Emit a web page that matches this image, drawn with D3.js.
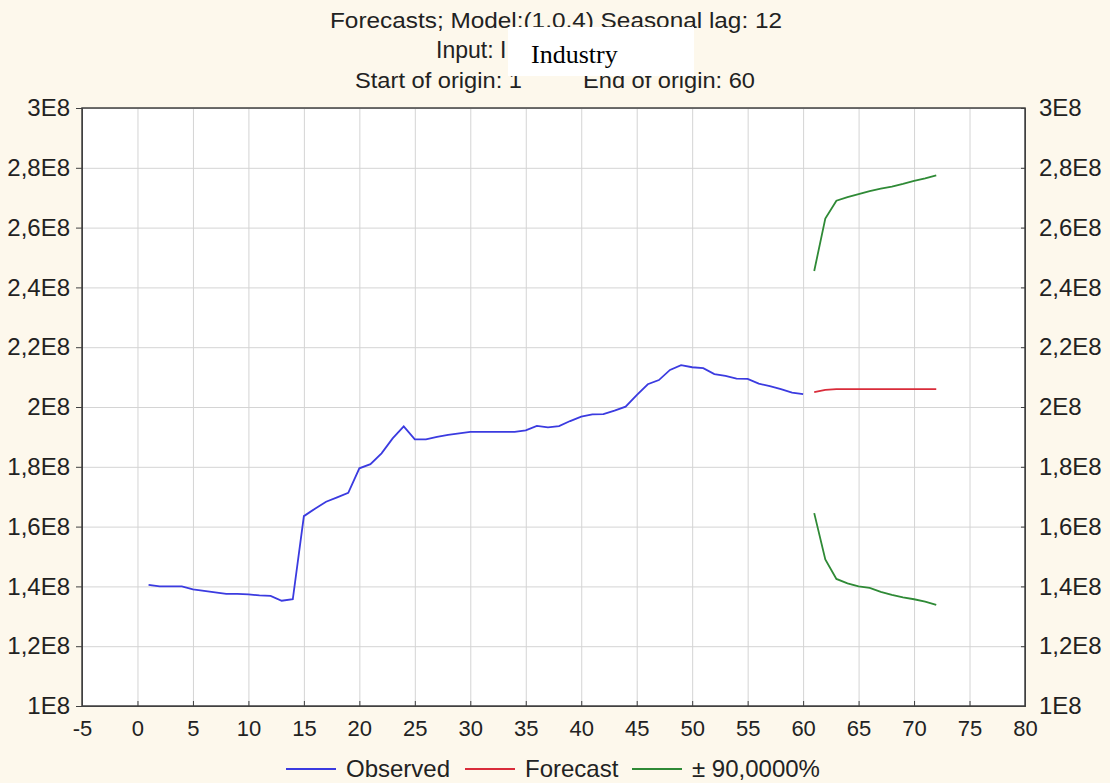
<!DOCTYPE html>
<meta charset="utf-8">
<style>
body { margin: 0; background: #fdf8ec; }
svg { font-family: "Liberation Sans", Arial, sans-serif; }
.grid line { stroke: #d4d4d4; stroke-width: 1; }
.grid path { display: none; }
.axis path, .axis line { stroke: #404040; }
.axis text { fill: #222; }
.series { fill: none; stroke-width: 1.8; }
</style>
<svg id="chart" width="1110" height="783"></svg>
<script src="https://cdnjs.cloudflare.com/ajax/libs/d3/7.8.5/d3.min.js"></script>
<script>

// values in units of 1E8
var observed = [1.405, 1.400, 1.400, 1.400, 1.390, 1.385, 1.380, 1.375, 1.375, 1.373,
                1.370, 1.368, 1.352, 1.357, 1.635, 1.660, 1.683, 1.698, 1.713, 1.795,
                1.809, 1.845, 1.895, 1.935, 1.892, 1.892, 1.900, 1.907, 1.912, 1.917,
                1.917, 1.917, 1.917, 1.917, 1.922, 1.937, 1.932, 1.936, 1.953, 1.968,
                1.975, 1.976, 1.988, 2.001, 2.040, 2.076, 2.090, 2.124, 2.140, 2.133,
                2.130, 2.110, 2.104, 2.095, 2.094, 2.078, 2.070, 2.060, 2.048, 2.043];
var observedStart = 1;

var forecast = [2.050, 2.057, 2.060, 2.060, 2.060, 2.060, 2.060, 2.060, 2.060, 2.060, 2.060, 2.060];
var upper    = [2.455, 2.630, 2.690, 2.702, 2.712, 2.722, 2.730, 2.737, 2.746, 2.756, 2.765, 2.775];
var lower    = [1.645, 1.490, 1.425, 1.410, 1.400, 1.395, 1.382, 1.372, 1.363, 1.357, 1.349, 1.338];
var forecastStart = 61;

var xTicks = [-5, 0, 5, 10, 15, 20, 25, 30, 35, 40, 45, 50, 55, 60, 65, 70, 75, 80];
var yTicks = [1, 1.2, 1.4, 1.6, 1.8, 2, 2.2, 2.4, 2.6, 2.8, 3];

var legendItems = [
  {label: "Observed", color: "#3b3be0"},
  {label: "Forecast", color: "#d92c3a"},
  {label: "\u00b1 90,0000%", color: "#2f8a36"}
];

var svg = d3.select("svg"),
    margin = {top: 108, right: 85, bottom: 77, left: 82},
    width = +svg.attr("width") - margin.left - margin.right,
    height = +svg.attr("height") - margin.top - margin.bottom;

var x = d3.scaleLinear().domain([-5, 80]).range([0, width]),
    y = d3.scaleLinear().domain([1, 3]).range([height, 0]);

var fmt = function(d) { return String(d).replace(".", ",") + "E8"; };

var g = svg.append("g")
    .attr("transform", "translate(" + margin.left + "," + margin.top + ")");

g.append("rect")
    .attr("width", width)
    .attr("height", height)
    .attr("fill", "#fff");

// grid
g.append("g")
    .attr("class", "grid")
    .attr("transform", "translate(0," + height + ")")
    .call(d3.axisBottom(x).tickValues(xTicks).tickSize(-height).tickFormat(""));
g.append("g")
    .attr("class", "grid")
    .call(d3.axisLeft(y).tickValues(yTicks).tickSize(-width).tickFormat(""));

function toPoints(vals, start) {
  return vals.map(function(v, i) { return [start + i, v]; });
}

var line = d3.line()
    .x(function(d) { return x(d[0]); })
    .y(function(d) { return y(d[1]); });

var series = [
  {pts: toPoints(observed, observedStart), color: legendItems[0].color},
  {pts: toPoints(forecast, forecastStart), color: legendItems[1].color},
  {pts: toPoints(upper, forecastStart), color: legendItems[2].color},
  {pts: toPoints(lower, forecastStart), color: legendItems[2].color}
];

g.selectAll(".series")
  .data(series)
  .enter().append("path")
    .attr("class", "series")
    .attr("d", function(d) { return line(d.pts); })
    .attr("stroke", function(d) { return d.color; });

// axes
var xAxis = g.append("g")
    .attr("class", "axis")
    .attr("transform", "translate(0," + height + ")")
    .call(d3.axisBottom(x).tickValues(xTicks).tickSize(-5).tickPadding(14)
      .tickFormat(function(d) { return String(d); }));
xAxis.selectAll("text").style("font-size", "22px");

var yLeft = g.append("g")
    .attr("class", "axis")
    .call(d3.axisLeft(y).tickValues(yTicks).tickFormat(fmt).tickSize(6).tickPadding(6));
yLeft.selectAll("text").style("font-size", "24px");

var yRight = g.append("g")
    .attr("class", "axis")
    .attr("transform", "translate(" + width + ",0)")
    .call(d3.axisRight(y).tickValues(yTicks).tickFormat(fmt).tickSize(-4).tickPadding(14));
yRight.selectAll("text").style("font-size", "24px");

g.append("rect")
    .attr("width", width)
    .attr("height", height)
    .attr("fill", "none")
    .attr("stroke", "#404040")
    .attr("stroke-width", 1.5);

// title
var title = svg.append("g").attr("fill", "#222").style("font-size", "22px");
title.append("text").attr("x", 330).attr("y", 28)
    .attr("textLength", 452).attr("lengthAdjust", "spacingAndGlyphs")
    .text("Forecasts; Model:(1,0,4) Seasonal lag: 12");
title.append("text").attr("x", 436).attr("y", 58)
    .style("font-size", "23px")
    .text("Input: I");
title.append("text").attr("x", 355).attr("y", 88)
    .attr("textLength", 167).attr("lengthAdjust", "spacingAndGlyphs")
    .text("Start of origin: 1");
title.append("text").attr("x", 583).attr("y", 88)
    .attr("textLength", 172).attr("lengthAdjust", "spacingAndGlyphs")
    .text("End of origin: 60");

svg.append("rect")
    .attr("x", 508).attr("y", 27)
    .attr("width", 186).attr("height", 49)
    .attr("fill", "#fff");
svg.append("text")
    .attr("x", 531).attr("y", 63)
    .style("font-family", "'Liberation Serif', 'Times New Roman', serif")
    .style("font-size", "26px")
    .attr("fill", "#000")
    .text("Industry");

// legend
var legendX = [286, 465, 632];
var legend = svg.append("g").style("font-size", "24px");
var li = legend.selectAll("g")
  .data(legendItems)
  .enter().append("g")
    .attr("transform", function(d, i) { return "translate(" + legendX[i] + ",769)"; });
li.append("line")
    .attr("x1", 0).attr("x2", 50)
    .attr("stroke", function(d) { return d.color; })
    .attr("stroke-width", 1.8);
li.append("text")
    .attr("x", 60).attr("y", 8)
    .attr("fill", "#222")
    .text(function(d) { return d.label; });

</script>
